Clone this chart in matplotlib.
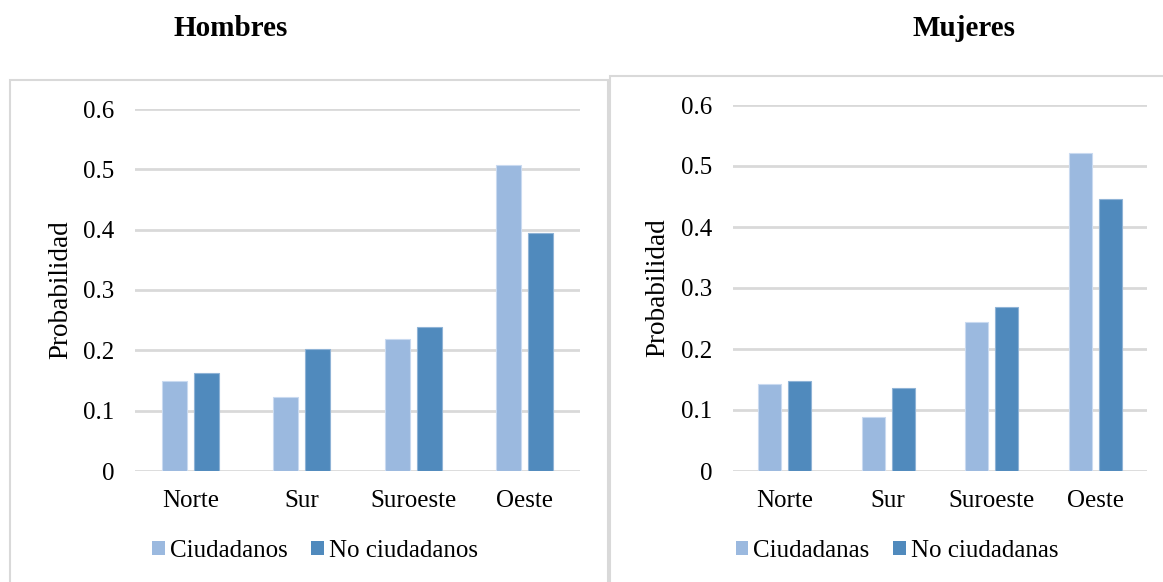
import matplotlib
matplotlib.use("Agg")
import matplotlib.pyplot as plt
from matplotlib.patches import Rectangle
import numpy as np

categories = ["Norte", "Sur", "Suroeste", "Oeste"]
hombres_ciud = [0.150, 0.123, 0.219, 0.507]
hombres_no = [0.162, 0.202, 0.239, 0.395]
mujeres_ciud = [0.143, 0.089, 0.244, 0.521]
mujeres_no = [0.148, 0.136, 0.269, 0.446]
yticks = [0, 0.1, 0.2, 0.3, 0.4, 0.5, 0.6]
ytick_labels = ["0", "0.1", "0.2", "0.3", "0.4", "0.5", "0.6"]

LIGHT = "#9BB9DF"
DARK = "#508ABD"
GRID = "#D9D9D9"
FONT = "Liberation Serif"

W, H = 1163, 582
fig = plt.figure(figsize=(W / 100, H / 100), dpi=100)
plt.rcParams["font.family"] = [FONT, "DejaVu Serif"]

# outer frames
fig.patches.append(Rectangle((10 / W, -0.05), 598 / W, 1 - 80 / H + 0.05,
                             transform=fig.transFigure, fill=False,
                             edgecolor=GRID, linewidth=1.5))
fig.patches.append(Rectangle((610 / W, -0.05), 600 / W, 1 - 76 / H + 0.05,
                             transform=fig.transFigure, fill=False,
                             edgecolor=GRID, linewidth=1.5))


def panel(rect, ciud, no, labels, title, title_x, ylab_x, legend_x):
    ax = fig.add_axes(rect)
    x = np.arange(len(categories))
    bw = 0.225
    off = 0.144
    ax.bar(x - off, ciud, bw, color=LIGHT, edgecolor="#C9DAF0", linewidth=0.8,
           label=labels[0], zorder=3)
    ax.bar(x + off, no, bw, color=DARK, edgecolor="#8FB3D6", linewidth=0.8,
           label=labels[1], zorder=3)
    ax.set_xlim(-0.5, len(categories) - 0.5)
    ax.set_ylim(0, 0.6)
    ax.set_yticks(yticks)
    ax.set_yticklabels(ytick_labels)
    ax.set_xticks(x)
    ax.set_xticklabels(categories)
    ax.yaxis.grid(True, color=GRID, linewidth=2, zorder=0)
    ax.set_axisbelow(True)
    for s in ["top", "right", "left", "bottom"]:
        ax.spines[s].set_visible(False)
    ax.tick_params(axis="both", length=0, labelsize=18, colors="black")
    ax.tick_params(axis="y", pad=15)
    ax.tick_params(axis="x", pad=14)
    ax.set_ylabel("Probabilidad", fontsize=19.5)
    ax.yaxis.set_label_coords(ylab_x, 0.5)
    fig.text(title_x, 1 - 28 / H, title, fontsize=21, fontweight="bold",
             ha="center", va="center")
    leg = fig.legend(handles=ax.patches[:1] + ax.patches[4:5], labels=labels,
                     loc="center", bbox_to_anchor=(legend_x, 1 - 551 / H),
                     bbox_transform=fig.transFigure, ncol=2, frameon=False,
                     fontsize=18, handlelength=0.5, handleheight=0.5,
                     handletextpad=0.2, columnspacing=0.95, borderpad=0)
    for h in leg.legend_handles:
        h.set_linewidth(0)
    return ax


panel([135 / W, 1 - 471 / H, 445 / W, 362 / H], hombres_ciud, hombres_no,
      ["Ciudadanos", "No ciudadanos"], "Hombres", 231 / W, -0.139, 315 / W)
panel([733 / W, 1 - 471 / H, 414 / W, 366 / H], mujeres_ciud, mujeres_no,
      ["Ciudadanas", "No ciudadanas"], "Mujeres", 964 / W, -0.152, 897 / W)

fig.savefig("out.png", dpi=100)
